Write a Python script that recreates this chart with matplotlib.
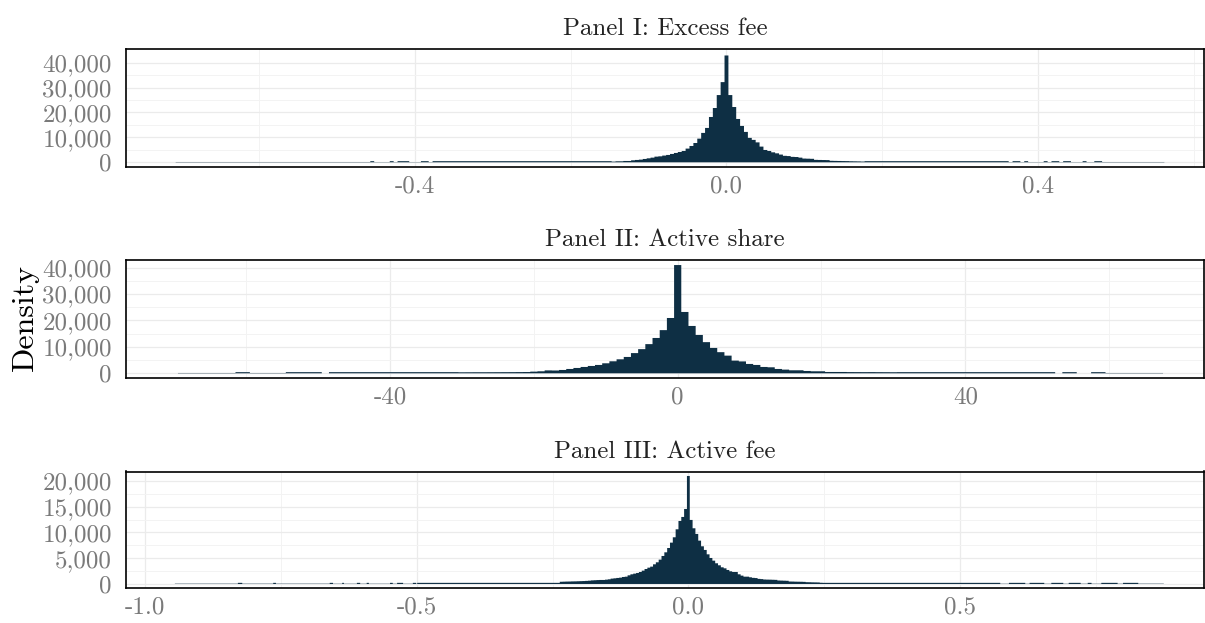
import numpy as np
import matplotlib.pyplot as plt
from matplotlib.ticker import FuncFormatter, FixedLocator

plt.rcParams['font.family'] = 'cmr10'
plt.rcParams['axes.unicode_minus'] = False
plt.rcParams['axes.formatter.use_mathtext'] = True

BAR = '#0e2f44'

# Panel I: Excess fee (bin width 0.005)
p1_width = 0.005
p1_start = -0.1475
p1_left_edges = [-0.7075, -0.4575, -0.4525, -0.4325, -0.4275, -0.4225, -0.4075, -0.3925, -0.3825, -0.3775]
p1_left_counts = [120, 450, 90, 450, 90, 450, 90, 450, 90, 450]
p1_counts = [270, 400, 400, 530, 530, 800, 940, 1070, 1340, 1600, 1870, 2270, 2400, 2700, 2950,
             3350, 3750, 4150, 4550, 5500, 6550, 7750, 9500, 11800, 13800, 18200, 21800, 27000, 32200,
             42900,
             27000, 22200, 17400, 14600, 12200, 9800, 9000, 8000, 6300, 4950, 4550, 4000, 3600, 3100,
             2600, 2500, 2180, 2120, 1870, 1500, 1450, 1400, 980, 940, 910, 880, 600, 560, 530, 500,
             480, 420, 390, 360]
p1_right_edges = [0.1725, 0.1775, 0.3525, 0.3625, 0.3675, 0.3775, 0.3825, 0.3875, 0.4075, 0.4125,
                  0.4175, 0.4275, 0.4325, 0.4425, 0.4575, 0.4625, 0.4725, 0.4825, 0.5625]
p1_right_counts = [300, 450, 450, 90, 450, 90, 450, 90, 450, 90, 450, 90, 450, 90, 450, 90, 450, 120]

# Panel II: Active share (bin width 1)
p2_width = 1.0
p2_start = -30.5
p2_left_edges = [-69.5, -61.5, -59.5, -54.5, -49.5, -48.5]
p2_left_counts = [120, 430, 120, 430, 0, 430]
p2_counts = [380, 390, 400, 400, 410, 420, 430, 440, 460, 480, 630, 760, 1100, 1060, 1260, 1640,
             2020, 2400, 2780, 3160, 3790, 4550, 5300, 6190, 7650, 9150, 11050, 13380, 16350, 20950,
             41000,
             23230, 17930, 14520, 11800, 9600, 8000, 6690, 4800, 4500, 3540, 3160, 2400, 2270, 1640,
             1390, 1140, 1140, 880, 760, 760, 500, 500, 500, 460, 450, 440, 450, 430, 420, 400]
p2_right_edges = [30.5, 52.5, 53.5, 55.5, 57.5, 59.5, 67.5]
p2_right_counts = [430, 0, 430, 0, 430, 120]

# Panel III: Active fee (bin width 0.0052)
p3_width = 0.0052
p3_start = -0.2366
p3_left_edges = [-0.945, -0.829, -0.821, -0.764, -0.759, -0.660, -0.654, -0.637, -0.634, -0.610,
                 -0.604, -0.592, -0.588, -0.549, -0.544, -0.536, -0.525, -0.507, -0.501, -0.499]
p3_left_counts = [60, 220, 60, 220, 60, 220, 50, 220, 50, 220, 50, 220, 50, 220, 50, 220, 50, 220, 50, 220]
p3_counts = [430, 450, 470, 480, 500, 510, 530, 550, 570, 600, 640, 700, 730, 760, 780,
             780, 840, 910, 1040, 1100, 1170, 1230, 1360, 1420, 1680, 1880, 2010, 2140, 2330, 2590,
             2910, 3170, 3370, 3820, 4210, 4730, 5440, 6150, 6990, 8030, 9070, 10620, 12240, 13020, 14570,
             20980,
             12440, 10820, 9720, 8420, 7320, 6610, 5760, 5050, 4530, 4020, 3630, 3240, 3040, 2720,
             2460, 2330, 2330, 1880, 1620, 1420, 1420, 1300, 1190, 1150, 990, 950, 870, 850, 840,
             820, 800, 680, 660, 640, 620, 480, 470, 450, 440, 430, 410, 350, 340, 320, 310, 300]
p3_right_edges = [0.2418, 0.247, 0.574, 0.590, 0.620, 0.628, 0.655, 0.668, 0.690, 0.700, 0.722,
                  0.735, 0.742, 0.760, 0.790, 0.800, 0.828, 0.875]
p3_right_counts = [240, 220, 50, 220, 50, 220, 50, 220, 50, 220, 50, 220, 50, 220, 50, 220, 60]

panels = [
    dict(title='Panel I: Excess fee', width=p1_width, start=p1_start, le=p1_left_edges, lc=p1_left_counts,
         c=p1_counts, re=p1_right_edges, rc=p1_right_counts,
         xlim=(-0.7717, 0.6134), ylim=(-1770, 45380),
         xmaj=[-0.4, 0.0, 0.4], xmin=[-0.6, -0.2, 0.2, 0.6], xfmt='%.1f',
         ymaj=[0, 10000, 20000, 30000, 40000], ymin=[5000, 15000, 25000, 35000],
         box=(125.7, 49.3, 1204, 166.7)),
    dict(title='Panel II: Active share', width=p2_width, start=p2_start, le=p2_left_edges, lc=p2_left_counts,
         c=p2_counts, re=p2_right_edges, rc=p2_right_counts,
         xlim=(-76.77, 73.2), ylim=(-1670, 42800),
         xmaj=[-40, 0, 40], xmin=[-60, -20, 20, 60], xfmt='%d',
         ymaj=[0, 10000, 20000, 30000, 40000], ymin=[5000, 15000, 25000, 35000],
         box=(125.7, 260.3, 1204, 377.7)),
    dict(title='Panel III: Active fee', width=p3_width, start=p3_start, le=p3_left_edges, lc=p3_left_counts,
         c=p3_counts, re=p3_right_edges, rc=p3_right_counts,
         xlim=(-1.0355, 0.949), ylim=(-840, 21850),
         xmaj=[-1.0, -0.5, 0.0, 0.5], xmin=[-0.75, -0.25, 0.25, 0.75], xfmt='%.1f',
         ymaj=[0, 5000, 10000, 15000, 20000], ymin=[2500, 7500, 12500, 17500],
         box=(125.7, 471.5, 1204, 588.3)),
]

W, H = 1205, 623
fig = plt.figure(figsize=(W / 100, H / 100), dpi=100)

for p in panels:
    l, t, r, b = p['box']
    ax = fig.add_axes([l / W, 1 - b / H, (r - l) / W, (b - t) / H])
    mid = p['start'] + p['width'] * np.arange(len(p['c']))
    edges = np.concatenate([p['le'], mid, p['re']])
    counts = np.array(p['lc'] + p['c'] + p['rc'], dtype=float)
    st = ax.stairs(counts, edges, fill=True, color=BAR, linewidth=0)
    st.set_snap(False)
    ax.set_xlim(*p['xlim'])
    ax.set_ylim(*p['ylim'])
    ax.xaxis.set_major_locator(FixedLocator(p['xmaj']))
    ax.xaxis.set_minor_locator(FixedLocator(p['xmin']))
    ax.yaxis.set_major_locator(FixedLocator(p['ymaj']))
    ax.yaxis.set_minor_locator(FixedLocator(p['ymin']))
    fmt = p['xfmt']
    ax.xaxis.set_major_formatter(FuncFormatter(lambda v, pos, fmt=fmt: fmt % v))
    ax.yaxis.set_major_formatter(FuncFormatter(lambda v, pos: f'{v:,.0f}'))
    ax.grid(True, which='major', color='#ebebeb', linewidth=0.9)
    ax.grid(True, which='minor', color='#f3f3f3', linewidth=0.7)
    ax.set_axisbelow(True)
    ax.tick_params(which='both', length=0, labelsize=18, labelcolor='#7a7a7a')
    ax.tick_params(axis='x', pad=6)
    ax.tick_params(axis='y', pad=10)
    for s in ax.spines.values():
        s.set_color('black')
        s.set_linewidth(1.2)
    ax.set_title(p['title'], fontsize=18, color='#222222', pad=10)

fig.text(0.021, 0.49, 'Density', rotation=90, fontsize=23, va='center', ha='center')

fig.savefig('out.png', dpi=100)
